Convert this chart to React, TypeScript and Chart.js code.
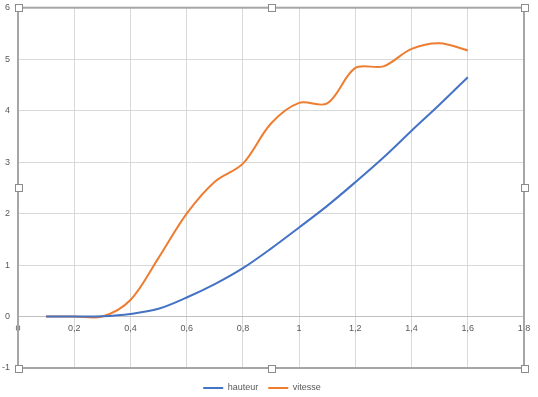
import React, { useEffect, useRef } from 'react';
import { Chart, registerables } from 'chart.js';

Chart.register(...registerables);

const xValues = [0.1, 0.2, 0.3, 0.4, 0.5, 0.6, 0.7, 0.8, 0.9, 1.0, 1.1, 1.2, 1.3, 1.4, 1.5, 1.6];
const hauteur = [0, 0, 0.005, 0.05, 0.15, 0.37, 0.63, 0.94, 1.32, 1.73, 2.15, 2.61, 3.09, 3.61, 4.12, 4.65];
const vitesse = [0, 0, 0, 0.32, 1.14, 2.0, 2.62, 2.97, 3.75, 4.15, 4.14, 4.83, 4.86, 5.2, 5.31, 5.17];
const xTickLabels = ['0', '0,2', '0,4', '0,6', '0,8', '1', '1,2', '1,4', '1,6', '1,8'];
const seriesNames = ['hauteur', 'vitesse'];

const frameAndHandles = {
  id: 'frameAndHandles',
  afterDraw(chart: any) {
    const { ctx, chartArea } = chart;
    const { left, right, top, bottom } = chartArea;
    ctx.save();
    ctx.strokeStyle = '#a6a6a6';
    ctx.lineWidth = 2;
    ctx.strokeRect(left, top, right - left, bottom - top);
    const midX = (left + right) / 2;
    const midY = (top + bottom) / 2;
    const pts = [
      [left, top], [midX, top], [right, top],
      [left, midY], [right, midY],
      [left, bottom], [midX, bottom], [right, bottom],
    ];
    ctx.lineWidth = 1;
    ctx.strokeStyle = '#8c8c8c';
    ctx.fillStyle = '#ffffff';
    for (const [px, py] of pts) {
      const x0 = Math.round(px - 3.5) + 0.5;
      const y0 = Math.round(py - 3.5) + 0.5;
      ctx.fillRect(x0, y0, 7, 7);
      ctx.strokeRect(x0, y0, 7, 7);
    }
    ctx.restore();
  },
};

export default function App() {
  const ref = useRef<HTMLCanvasElement>(null);
  useEffect(() => {
    document.body.style.margin = '0';
    Chart.defaults.font.family = "'Liberation Sans', Arial, sans-serif";
    Chart.defaults.font.size = 9;
    Chart.defaults.color = '#595959';
    const chart = new Chart(ref.current as HTMLCanvasElement, {
      type: 'line',
      data: {
        datasets: [
          {
            label: seriesNames[0],
            data: xValues.map((x, i) => ({ x, y: hauteur[i] })),
            borderColor: '#4472C4',
            backgroundColor: '#4472C4',
            borderWidth: 2,
            pointRadius: 0,
            tension: 0.33,
            fill: false,
          },
          {
            label: seriesNames[1],
            data: xValues.map((x, i) => ({ x, y: vitesse[i] })),
            borderColor: '#ED7D31',
            backgroundColor: '#ED7D31',
            borderWidth: 2,
            pointRadius: 0,
            tension: 0.33,
            fill: false,
          },
        ],
      },
      options: {
        animation: false,
        responsive: false,
        devicePixelRatio: 1,
        layout: { padding: { left: 0, top: 7.7, right: 14, bottom: -5.5 } },
        plugins: {
          legend: {
            position: 'bottom',
            title: { display: true, text: '', font: { size: 1, lineHeight: 1 }, padding: { top: 4.5, bottom: 0 } },
            labels: {
              usePointStyle: true,
              pointStyle: 'line',
              pointStyleWidth: 20,
              padding: 10,
              color: '#595959',
              font: { size: 9 },
            },
          },
          tooltip: { enabled: false },
        },
        scales: {
          x: {
            type: 'linear',
            min: 0,
            max: 1.8,
            position: { y: 0 } as any,
            afterFit: (s: any) => { s.height = 0; },
            ticks: {
              stepSize: 0.2,
              padding: 7,
              maxRotation: 0,
              autoSkip: false,
              callback: (_v: any, i: number) => xTickLabels[i],
            },
            grid: { color: '#d9d9d9', lineWidth: 1, drawTicks: false },
            border: { display: true, color: '#bfbfbf', width: 1 },
          },
          y: {
            type: 'linear',
            min: -1,
            max: 6,
            afterFit: (s: any) => { s.width = 18; s.paddingTop = 0; s.paddingBottom = 0; },
            ticks: { stepSize: 1, padding: 8 },
            grid: { color: '#d9d9d9', lineWidth: 1, drawTicks: false },
            border: { display: false },
          },
        },
      },
      plugins: [frameAndHandles],
    });
    return () => chart.destroy();
  }, []);
  return (
    <div style={{ width: 538, height: 397 }}>
      <canvas ref={ref} width={538} height={397} style={{ display: 'block' }} />
    </div>
  );
}
